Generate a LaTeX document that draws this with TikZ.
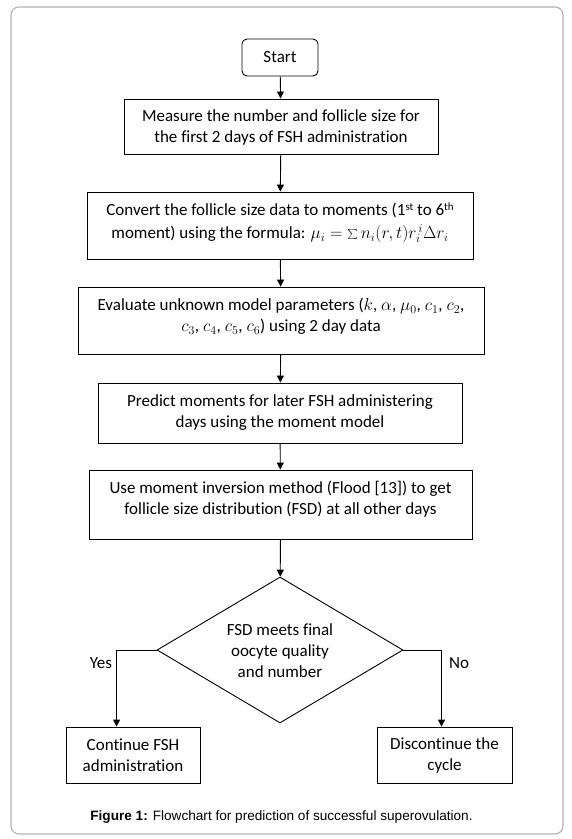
\documentclass[tikz,border=0pt]{standalone}
\usepackage{fontspec}
\setmainfont{Carlito}[Ligatures=NoCommon]
\newfontfamily\capfont{Liberation Sans}
\usetikzlibrary{arrows.meta,shapes.geometric,calc}
\begin{document}
\begin{tikzpicture}[x=1pt,y=-1pt,
  box/.style={draw, line width=0.9pt, inner sep=0pt},
  txt/.style={font=\fontsize{17}{21}\selectfont, align=center, inner sep=0pt},
  arr/.style={-{Triangle[length=7pt,width=7pt]}, line width=0.9pt},
  frame/.style={draw=black!30, line width=1.1pt, rounded corners=8pt}]
\useasboundingbox (0,0) rectangle (572,839);
\draw[frame] (11,7) rectangle (563,834);

\node[box, rounded corners=5pt, minimum width=76pt, minimum height=37pt, txt] (start) at (280,57.5) {Start};

\node[box, minimum width=314pt, minimum height=55pt] (b1) at (281,126.5) {};
\node[txt] (t1) at (281,127) {Measure the number and follicle size for\\the first 2 days of FSH administration};

\node[box, minimum width=386pt, minimum height=67pt] (b2) at (280,225.5) {};
\node[txt] (t2) at (280,223) {Convert the follicle size data to moments (1{\fontsize{11}{11}\selectfont\raisebox{5pt}{st}} to 6{\fontsize{11}{11}\selectfont\raisebox{5pt}{th}}\\[2pt]
moment) using the formula: $\mu_i=\sum n_i(r,t)r_i^{\,i}\Delta r_i$};

\node[box, minimum width=406pt, minimum height=67pt] (b3) at (281,320.5) {};
\node[txt] (t3) at (281,316.5) {Evaluate unknown model parameters ($k$, $\alpha$, $\mu_0$, $c_1$, $c_2$,\\
$c_3$, $c_4$, $c_5$, $c_6$) using 2 day data};

\node[box, minimum width=364pt, minimum height=60pt] (b4) at (280,413) {};
\node[txt] (t4) at (280,413) {Predict moments for later FSH administering\\days using the moment model};

\node[box, minimum width=383pt, minimum height=69pt] (b5) at (280.5,504.5) {};
\node[txt] (t5) at (280.5,499) {Use moment inversion method (Flood [13]) to get\\follicle size distribution (FSD) at all other days};

\node[box, diamond, aspect=1.7, minimum width=246pt, minimum height=146pt] (dia) at (280,650) {};
\node[txt] (td) at (280,651) {FSD meets final\\oocyte quality\\and number};

\node[box, minimum width=134pt, minimum height=56pt, txt] (yes) at (133,755) {Continue FSH\\administration};
\node[box, minimum width=135pt, minimum height=56pt, txt] (no) at (444.5,755) {Discontinue the\\cycle};

\node[txt] (ylab) at (101,663) {Yes};
\node[txt] (nlab) at (459,663) {No};

\draw[arr] (start) -- (b1);
\draw[arr] (b1) -- (b2);
\draw[arr] (b2) -- (b3);
\draw[arr] (b3) -- (b4);
\draw[arr] (b4) -- (b5);
\draw[arr] (b5) -- (dia);
\draw[arr] (dia.west) -| ([xshift=51pt]yes.north west);
\draw[arr] (dia.east) -| ([xshift=-3pt]no.north);

\node[font=\capfont\fontsize{13.6}{16}\selectfont, inner sep=0pt] (cap) at (281.5,817) {\textbf{Figure 1:} Flowchart for prediction of successful superovulation.};
\end{tikzpicture}
\end{document}
